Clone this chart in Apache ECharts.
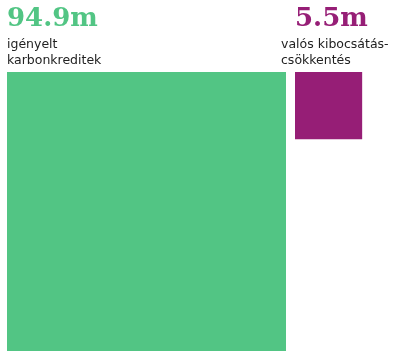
<!DOCTYPE html>
<html>
<head>
<meta charset="utf-8">
<script src="https://cdn.jsdelivr.net/npm/echarts@6/dist/echarts.min.js"></script>
<style>
html,body{margin:0;padding:0;background:#fff;}
#chart{width:394px;height:360px;}
</style>
</head>
<body>
<div id="chart"></div>
<script>
// Data
const categories = ['igényelt\nkarbonkreditek', 'valós kibocsátás-\ncsökkentés'];
const values = [94.9, 5.5];
const valueLabels = ['94.9m', '5.5m'];

// Styling / layout
const colors = ['#52c584', '#961e76'];
const W = 394, H = 360;
const pxPerUnit = 279 / Math.sqrt(values[0]); // side of square = sqrt(value)
const leftPx = 7, topPx = 72, gapPx = 9;
const labelDx = [0, -14];

const sides = values.map(v => Math.sqrt(v));
const starts = [];
let acc = leftPx / pxPerUnit;
sides.forEach((s, i) => { starts.push(acc); acc += s + gapPx / pxPerUnit; });
const topUnit = topPx / pxPerUnit;

const chart = echarts.init(document.getElementById('chart'), null, {renderer: 'canvas'});
chart.setOption({
  animation: false,
  grid: {left: 0, top: 0, right: 0, bottom: 0},
  xAxis: {type: 'value', min: 0, max: W / pxPerUnit, show: false},
  yAxis: {type: 'value', min: 0, max: H / pxPerUnit, inverse: true, show: false},
  series: [{
    type: 'custom',
    data: values.map((v, i) => [v, i]),
    renderItem: function (params, api) {
      const i = params.dataIndex;
      const side = Math.sqrt(api.value(0));
      const x0 = starts[i];
      const p0 = api.coord([x0, topUnit]);
      const p1 = api.coord([x0 + side, topUnit + side]);
      const lines = categories[i].split('\n');
      const children = [
        {type: 'rect', shape: {x: p0[0], y: p0[1], width: p1[0] - p0[0], height: p1[1] - p0[1]},
         style: {fill: colors[i]}},
        {type: 'text', x: p0[0], y: p0[1] - 53,
         style: {text: valueLabels[i], fill: colors[i], font: 'bold 26px "DejaVu Serif"',
                 textAlign: 'left', textVerticalAlign: 'middle'}}
      ];
      lines.forEach((ln, j) => {
        children.push({type: 'text', x: p0[0] + labelDx[i], y: p0[1] - 27.7 + j * 16,
          style: {text: ln, fill: '#222', font: '12.5px "DejaVu Sans"',
                  textAlign: 'left', textVerticalAlign: 'middle'}});
      });
      return {type: 'group', children: children};
    }
  }]
});
</script>
</body>
</html>
